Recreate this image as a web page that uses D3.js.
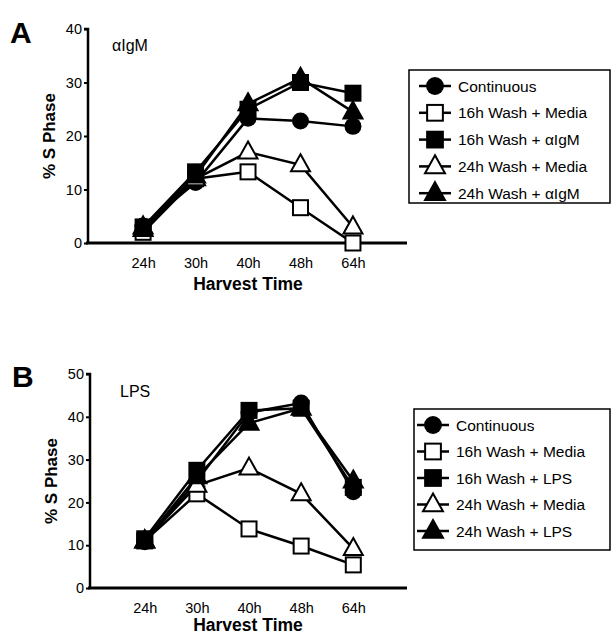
<!DOCTYPE html>
<html><head><meta charset="utf-8">
<script src="https://cdn.jsdelivr.net/npm/d3@7"></script>
<style>body{margin:0;background:#fff}svg{display:block}text{font-family:"Liberation Sans",Arial,sans-serif}</style>
</head><body>
<script>
const harvestTimes = ["24h","30h","40h","48h","64h"];
const seriesNamesA = ["Continuous","16h Wash + Media","16h Wash + αIgM","24h Wash + Media","24h Wash + αIgM"];
const seriesNamesB = ["Continuous","16h Wash + Media","16h Wash + LPS","24h Wash + Media","24h Wash + LPS"];
const markerTypes = ["circle","squareOpen","square","triangleOpen","triangle"];
// Panel A (αIgM)
const aContinuous = [3.2, 11.3, 23.3, 22.8, 21.8];
const a16Media    = [2.0, 12.0, 13.3, 6.6, 0.0];
const a16IgM      = [3.0, 13.3, 25.0, 30.0, 28.0];
const a24Media    = [2.5, 12.0, 17.0, 14.6, 3.0];
const a24IgM      = [3.0, 12.5, 26.0, 30.8, 24.5];
// Panel B (LPS)
const bContinuous = [10.8, 25.0, 41.0, 43.2, 22.5];
const b16Media    = [11.0, 22.0, 13.8, 9.8, 5.4];
const b16LPS      = [11.5, 27.5, 41.5, 42.0, 23.5];
const b24Media    = [11.0, 24.0, 28.0, 22.0, 9.2];
const b24LPS      = [11.0, 26.0, 38.5, 42.0, 25.0];
const yTicksA = [0,10,20,30,40];
const yTicksB = [0,10,20,30,40,50];

const svg = d3.select("body").append("svg").attr("width",613).attr("height",637);

function marker(g, type, x, y, s) {
  const k = s || 1;
  if (type === "circle") {
    g.append("circle").attr("cx",x).attr("cy",y).attr("r",8.5*k).attr("fill","#000");
  } else if (type.startsWith("square")) {
    const h = 7.5*k;
    g.append("rect").attr("x",x-h).attr("y",y-h).attr("width",2*h).attr("height",2*h)
      .attr("fill", type==="square" ? "#000" : "#fff").attr("stroke","#000").attr("stroke-width",2);
  } else {
    const w = 9.5*k, ht = 17*k;
    const pts = [[x, y-ht*0.62],[x+w, y+ht*0.38],[x-w, y+ht*0.38]];
    g.append("path").attr("d", d3.line()(pts)+"Z")
      .attr("fill", type==="triangle" ? "#000" : "#fff").attr("stroke","#000").attr("stroke-width",2).attr("stroke-linejoin","miter");
  }
}

function panel(cfg) {
  const g = svg.append("g");
  const x = d3.scaleLinear().domain([-1.05, 5.03]).range([cfg.x0, 407]);
  const y = d3.scaleLinear().domain([0, cfg.ymax]).range([cfg.y0, cfg.ytop]);
  const yAxis = d3.axisLeft(y).tickValues(cfg.yticks).tickSize(4).tickPadding(2).tickFormat(d3.format("d"));
  const ya = g.append("g").attr("transform",`translate(${cfg.x0},0)`).call(yAxis);
  ya.select(".domain").attr("stroke-width",2.5).attr("d",`M-4,${y(cfg.ymax)}H0V${cfg.y0+1}`);
  ya.selectAll(".tick line").attr("stroke-width",2);
  ya.selectAll("text").attr("font-size",14.5).attr("fill","#000");
  const xAxis = d3.axisBottom(x).tickValues(d3.range(5)).tickFormat(i => harvestTimes[i]).tickSize(0).tickPadding(15);
  const xa = g.append("g").attr("transform",`translate(0,${cfg.y0})`).call(xAxis);
  xa.select(".domain").attr("stroke-width",3).attr("d",`M${cfg.x0-2},0H407`);
  xa.selectAll("text").attr("font-size",14.5).attr("fill","#000");
  g.append("text").attr("x",cfg.x0-78).attr("y",cfg.letterY).attr("font-size",30).attr("font-weight","bold").text(cfg.letter);
  g.append("text").attr("x",cfg.innerX).attr("y",cfg.innerY).attr("font-size",16).text(cfg.inner);
  g.append("text").attr("transform",`translate(${cfg.x0-33},${(cfg.y0+y(cfg.ymax))/2}) rotate(-90)`)
    .attr("text-anchor","middle").attr("font-size",17).attr("font-weight","bold").text("% S Phase");
  g.append("text").attr("x",248).attr("y",cfg.y0+cfg.titleOff).attr("text-anchor","middle").attr("font-size",17.5).attr("font-weight","bold").text("Harvest Time");
  const line = d3.line().x((d,i)=>x(i)).y(d=>y(d));
  const order = [0,1,3,2,4];
  cfg.series.forEach((s) => {
    g.append("path").attr("d", line(s)).attr("fill","none").attr("stroke","#000").attr("stroke-width",2.5);
  });
  order.forEach(k => {
    cfg.series[k].forEach((v,i) => marker(g, markerTypes[k], x(i), y(v)));
  });
  const L = cfg.legend;
  g.append("rect").attr("x",L.x).attr("y",L.y).attr("width",L.w).attr("height",L.h).attr("fill","#fff").attr("stroke","#000").attr("stroke-width",1.5);
  cfg.names.forEach((n,k) => {
    const cy = L.y + 16 + k*L.step;
    g.append("line").attr("x1",L.mx-16).attr("x2",L.mx+16).attr("y1",cy).attr("y2",cy).attr("stroke","#000").attr("stroke-width",2.5);
    marker(g, markerTypes[k], L.mx, cy, 1.05);
    g.append("text").attr("x",L.mx+23).attr("y",cy+5.5).attr("font-size",15.5).text(n);
  });
}

panel({letter:"A", letterY:43, x0:88, y0:243, ytop:29, ymax:40, yticks:yTicksA, inner:"αIgM", innerX:112, innerY:51, titleOff:47,
  series:[aContinuous,a16Media,a16IgM,a24Media,a24IgM], names:seriesNamesA,
  legend:{x:409,y:70,w:201,h:133,mx:435,step:26.8}});
panel({letter:"B", letterY:387, x0:90, y0:588, ytop:374, ymax:50, yticks:yTicksB, inner:"LPS", innerX:120, innerY:397, titleOff:43,
  series:[bContinuous,b16Media,b16LPS,b24Media,b24LPS], names:seriesNamesB,
  legend:{x:414,y:409,w:196,h:141,mx:433,step:26.5}});
</script>
</body></html>
